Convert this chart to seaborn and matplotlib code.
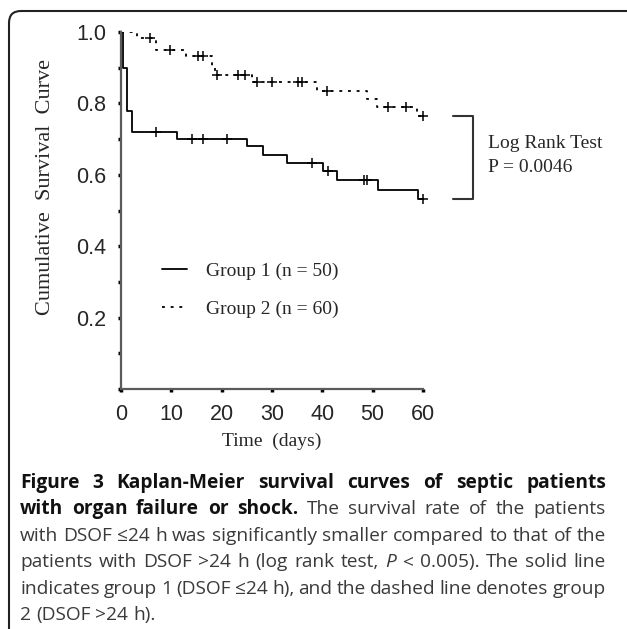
import numpy as np
import pandas as pd
import matplotlib
matplotlib.use("Agg")
import matplotlib.pyplot as plt
from matplotlib.patches import FancyBboxPatch
from matplotlib.transforms import IdentityTransform
import seaborn as sns

# Kaplan-Meier curves (time in days, survival fraction)
g1_label = "Group 1 (n = 50)"
g2_label = "Group 2 (n = 60)"

g1_time = [0, 0.45, 1.1, 2.1, 11.2, 25.1, 28.2, 33.0, 40.2, 43.0, 51.1, 59.1, 60]
g1_surv = [1.0, 0.90, 0.78, 0.72, 0.70, 0.68, 0.655, 0.633, 0.611, 0.585, 0.557, 0.531, 0.531]
g1_censor = [7, 14.2, 16.2, 21, 38, 41.2, 48.3, 48.8, 60]

g2_time = [0, 3.1, 7.0, 13.0, 18.0, 18.6, 26.0, 39.0, 48.8, 50.8, 58.8, 60]
g2_surv = [1.0, 0.983, 0.95, 0.933, 0.90, 0.88, 0.86, 0.836, 0.811, 0.791, 0.765, 0.765]
g2_censor = [5.8, 9.8, 15.2, 16.3, 19, 23.2, 24.6, 27, 30, 35.1, 35.9, 41, 53.1, 56.7, 60]

x_ticks = [0, 10, 20, 30, 40, 50, 60]
y_ticks = [0.2, 0.4, 0.6, 0.8, 1.0]
y_minor = [0.0, 0.1, 0.3, 0.5, 0.7, 0.9]

test_name = "Log Rank Test"
p_text = "P = 0.0046"

caption = [
    [("Figure 3 Kaplan-Meier survival curves of septic patients", "bold", "normal")],
    [("with organ failure or shock.", "bold", "normal"),
     ("The survival rate of the patients", "normal", "normal")],
    [("with DSOF \u226424 h was significantly smaller compared to that of the", "normal", "normal")],
    [("patients with DSOF >24 h (log rank test,", "normal", "normal"),
     ("P", "normal", "italic"),
     ("< 0.005). The solid line", "normal", "normal")],
    [("indicates group 1 (DSOF \u226424 h), and the dashed line denotes group", "normal", "normal")],
    [("2 (DSOF >24 h).", "normal", "normal")],
]

df = pd.concat([
    pd.DataFrame({"time": g1_time, "surv": g1_surv, "group": g1_label}),
    pd.DataFrame({"time": g2_time, "surv": g2_surv, "group": g2_label}),
])

sns.set_style("white")
serif = ["Liberation Serif", "DejaVu Serif"]
sans = ["Liberation Sans", "DejaVu Sans"]
cap_font = ["Open Sans", "DejaVu Sans"]

fig = plt.figure(figsize=(6.27, 6.29), dpi=100)
ax = fig.add_axes([121 / 627, 1 - 389 / 629, 302 / 627, 357 / 629])

sns.lineplot(data=df, x="time", y="surv", hue="group", style="group",
             palette=["black", "black"],
             dashes={g1_label: "", g2_label: (1.6, 3.2)},
             drawstyle="steps-post", estimator=None, sort=False,
             lw=1.3, ax=ax)

# censored observations as "+"
for times, surv, cens in [(g1_time, g1_surv, g1_censor), (g2_time, g2_surv, g2_censor)]:
    idx = np.searchsorted(times, cens, side="right") - 1
    sns.scatterplot(x=cens, y=np.array(surv)[idx], marker="+", color="black",
                    s=45, linewidth=1.1, ax=ax, legend=False, clip_on=False, zorder=4)

sns.move_legend(ax, "upper left", bbox_to_anchor=(0.135, 0.355), frameon=False,
                title=None, prop={"family": serif, "size": 14},
                handlelength=1.3, handletextpad=1.0, labelspacing=1.05,
                borderpad=0, borderaxespad=0)

ax.set_xlim(0, 60)
ax.set_ylim(0, 1.0)
ax.set_xticks(x_ticks)
ax.set_yticks(y_ticks)
ax.set_yticks(y_minor, minor=True)
ax.set_xticklabels([str(t) for t in x_ticks], family=sans, fontsize=15.5)
ax.set_yticklabels([f"{t:.1f}" for t in y_ticks], family=sans, fontsize=15.5)
ax.tick_params(axis="x", which="both", direction="out", length=2, width=2.5,
               color="black", pad=9, bottom=True)
ax.tick_params(axis="y", which="both", direction="out", length=2.5, width=2.5,
               color="black", pad=8, left=True)
ax.set_xlabel("")
ax.set_ylabel("")
sns.despine(ax=ax)
for side in ["left", "bottom"]:
    ax.spines[side].set_color("#5a5a5a")
    ax.spines[side].set_linewidth(1.6)

# bracket joining the two curve ends
ax.plot([66, 70, 70, 66], [g2_surv[-1], g2_surv[-1], g1_surv[-1], g1_surv[-1]],
        color="#333333", lw=1.5, clip_on=False)

fig.text(46 / 627, 1 - 187 / 629, "Cumulative  Survival  Curve", rotation=90,
         ha="center", va="center", family=serif, fontsize=16)
fig.text(272 / 627, 1 - 441 / 629, "Time  (days)", ha="center", va="center",
         family=serif, fontsize=14)
fig.text(488 / 627, 1 - 143 / 629, test_name, va="center", family=serif, fontsize=14)
fig.text(488 / 627, 1 - 167 / 629, p_text, va="center", family=serif, fontsize=14)

# frame around the figure panel (only top-left corner is visible)
frame = FancyBboxPatch((9, -40), 700, 629 - 11 + 40,
                       boxstyle="round,pad=0,rounding_size=12",
                       transform=IdentityTransform(), fill=False,
                       edgecolor="#222222", lw=1.5)
fig.add_artist(frame)

# justified caption; font size chosen so the longest plain line fills the width
renderer = fig.canvas.get_renderer()
probe = fig.text(0, 0, caption[2][0][0], fontsize=12, family=cap_font)
cap_size = 12 * 582 / probe.get_window_extent(renderer).width
probe.remove()

x0, x1 = 20, 606
baselines = [488, 514, 541, 567, 594, 620]
for n, (parts, base) in enumerate(zip(caption, baselines)):
    words = []
    for text, weight, style in parts:
        for w in text.split(" "):
            words.append((w, weight, style))
    arts = []
    for w, weight, style in words:
        col = "#111111" if weight == "bold" else "#3a3a3a"
        t = fig.text(0, 629 - base, w, fontsize=cap_size, family=cap_font,
                     weight=weight, style=style, color=col, va="baseline",
                     transform=IdentityTransform())
        arts.append(t)
    widths = [t.get_window_extent(renderer).width for t in arts]
    if n < len(caption) - 1:
        gap = (x1 - x0 - sum(widths)) / (len(arts) - 1)
    else:
        gap = cap_size * 0.26 * 100 / 72
    x = x0
    for t, w in zip(arts, widths):
        t.set_x(x)
        x += w + gap

fig.savefig("out.png", dpi=100)
